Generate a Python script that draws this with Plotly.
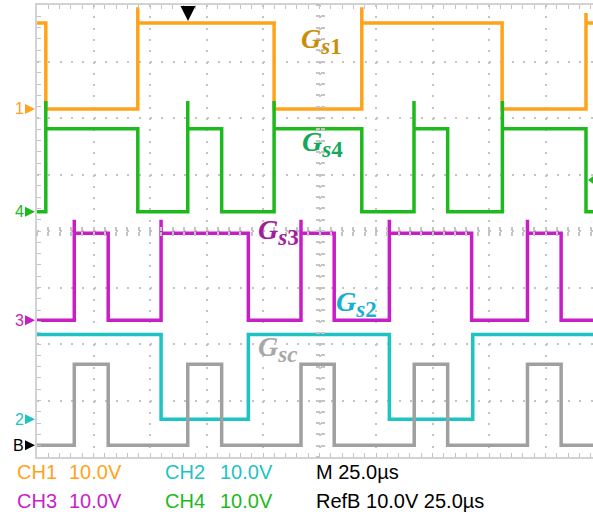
import plotly.graph_objects as go

# ---------------- scope settings ----------------
US_PER_DIV = 25.0      # M 25.0 us
V_PER_DIV = 10.0       # all channels 10.0 V/div
T_VIEW = 246.0         # visible part of the 10-division record (us)

# ---------------- waveform data ----------------
# each channel: switching instants (us) and the level (V) held from that instant on
ch1_t = [0.0, 3.9, 44.6, 104.9, 143.7, 205.8, 242.9]
ch1_v = [15.2, 0.0, 15.2, 0.0, 15.2, 0.0, 15.2]
ch1_os_t = [44.6, 143.7, 242.9]
ch1_os_v = [18.0, 18.0, 17.0]

ch4_t = [0.0, 3.9, 44.6, 66.7, 81.7, 104.9, 143.7, 166.8, 181.7, 205.9, 242.9]
ch4_v = [0.0, 14.7, 0.0, 14.7, 0.0, 14.7, 0.0, 14.7, 0.0, 14.7, 0.0]
ch4_os_t = [3.9, 66.7, 104.9, 166.8, 205.9]
ch4_os_v = [19.6, 19.6, 19.6, 19.6, 19.6]

ch3_t = [0.0, 16.5, 31.5, 54.9, 93.5, 116.8, 131.5, 155.9, 192.3, 217.0, 231.9]
ch3_v = [0.0, 15.4, 0.0, 15.4, 0.0, 15.4, 0.0, 15.4, 0.0, 15.4, 0.0]
ch3_os_t = [16.5, 54.9, 116.8, 155.9, 217.0]
ch3_os_v = [17.8, 17.8, 17.8, 17.8, 17.8]

ch2_t = [0.0, 54.9, 93.5, 155.9, 192.8]
ch2_v = [15.0, 0.0, 15.0, 0.0, 15.0]

refb_t = [0.0, 16.5, 31.5, 66.7, 81.7, 116.8, 131.5, 166.9, 181.7, 217.0, 231.9]
refb_v = [0.0, 14.3, 0.0, 14.3, 0.0, 14.3, 0.0, 14.3, 0.0, 14.3, 0.0]

# ground-reference positions of the channels (divisions from the bottom)
ch1_pos = 6.16
ch4_pos = 4.34
ch3_pos = 2.42
ch2_pos = 0.67
refb_pos = 0.21

trigger_t = 66.8

# ---------------- colours ----------------
C_CH1 = "#FFA31A"
C_CH2 = "#1EC3C3"
C_CH3 = "#C81EC8"
C_CH4 = "#1DB91D"
C_REFB = "#A0A0A0"
C_GRID = "#C4C4C4"

# ---------------- screen geometry (pixels) ----------------
W, H = 593, 518
L, T, B = 37, 5, 61
PX_DIV = 56.5


def step_trace(t, v, pos, os_t=(), os_v=()):
    """Build a stepped waveform, with overshoot spikes on listed edges."""
    spikes = dict(zip(os_t, os_v))
    xs, ys = [], []
    for i, (ti, vi) in enumerate(zip(t, v)):
        if i > 0:
            xs.append(ti)
            ys.append(pos + v[i - 1] / V_PER_DIV)
            if ti in spikes:
                xs.append(ti)
                ys.append(pos + spikes[ti] / V_PER_DIV)
        xs.append(ti)
        ys.append(pos + vi / V_PER_DIV)
    xs.append(T_VIEW)
    ys.append(pos + v[-1] / V_PER_DIV)
    return xs, ys


def ux(px):
    return (px - L) / PX_DIV * US_PER_DIV


def uy(py):
    return (H - B - py) / PX_DIV


def paper_x(px):
    return (px - L) / (W - L)


def paper_y(py):
    return (H - B - py) / (H - B - T)


fig = go.Figure()

channels = [
    (ch1_t, ch1_v, ch1_pos, ch1_os_t, ch1_os_v, C_CH1),
    (ch2_t, ch2_v, ch2_pos, (), (), C_CH2),
    (ch3_t, ch3_v, ch3_pos, ch3_os_t, ch3_os_v, C_CH3),
    (ch4_t, ch4_v, ch4_pos, ch4_os_t, ch4_os_v, C_CH4),
    (refb_t, refb_v, refb_pos, (), (), C_REFB),
]
for t, v, pos, ot, ov, col in channels:
    xs, ys = step_trace(t, v, pos, ot, ov)
    fig.add_trace(go.Scatter(x=xs, y=ys, mode="lines",
                             line=dict(color=col, width=3.5),
                             hoverinfo="skip", showlegend=False))

# invisible traces so the centre graticule axes are drawn
fig.add_trace(go.Scatter(x=[0, T_VIEW], y=[0, 8], xaxis="x2", yaxis="y2",
                         mode="markers", marker=dict(opacity=0), showlegend=False, hoverinfo="skip"))
fig.add_trace(go.Scatter(x=[0, T_VIEW], y=[0, 8], xaxis="x3", yaxis="y3",
                         mode="markers", marker=dict(opacity=0), showlegend=False, hoverinfo="skip"))

# trigger-level marker at the right edge
fig.add_trace(go.Scatter(x=[T_VIEW], y=[uy(180)], mode="markers",
                         marker=dict(symbol="triangle-left", size=10, color=C_CH4),
                         cliponaxis=False, showlegend=False, hoverinfo="skip"))

frame_axis = dict(showticklabels=False, zeroline=False, showgrid=True,
                  gridcolor=C_GRID, griddash="2px,9.3px", gridwidth=2,
                  showline=True, linecolor="#D2D2D2", linewidth=2,
                  ticks="inside", ticklen=4, tickcolor=C_GRID, tickwidth=1,
                  fixedrange=True)

centre_axis = dict(showticklabels=False, zeroline=False, showgrid=False,
                   showline=False, ticklen=4, tickcolor=C_GRID, tickwidth=2,
                   fixedrange=True)

fig.update_layout(
    width=W, height=H,
    margin=dict(l=L, r=0, t=T, b=B, pad=0),
    paper_bgcolor="white", plot_bgcolor="white",
    xaxis=dict(range=[0, T_VIEW], dtick=US_PER_DIV, tick0=0, mirror="ticks",
               minor=dict(dtick=US_PER_DIV / 5, ticks="inside", ticklen=4,
                          tickcolor=C_GRID, showgrid=False),
               **frame_axis),
    yaxis=dict(range=[0, 8], dtick=1, tick0=0, mirror=False,
               minor=dict(dtick=0.2, ticks="inside", ticklen=4,
                          tickcolor=C_GRID, showgrid=False),
               **frame_axis),
    xaxis2=dict(range=[0, T_VIEW], dtick=US_PER_DIV / 5, tick0=0, overlaying="x",
                anchor="free", position=0.5, ticks="outside", **centre_axis),
    xaxis3=dict(range=[0, T_VIEW], dtick=US_PER_DIV / 5, tick0=0, overlaying="x",
                anchor="free", position=0.5, ticks="inside", **centre_axis),
    yaxis2=dict(range=[0, 8], dtick=0.2, tick0=0, overlaying="y",
                anchor="free", position=(5 * US_PER_DIV) / T_VIEW, ticks="outside", **centre_axis),
    yaxis3=dict(range=[0, 8], dtick=0.2, tick0=0, overlaying="y",
                anchor="free", position=(5 * US_PER_DIV) / T_VIEW, ticks="inside", **centre_axis),
)

annotations = []

# channel ground markers on the left edge
markers = [("1", ch1_pos, C_CH1), ("4", ch4_pos, C_CH4), ("3", ch3_pos, C_CH3),
           ("2", ch2_pos, C_CH2), ("B", refb_pos, "#000000")]
for txt, pos, col in markers:
    annotations.append(dict(
        x=0, y=pos, xref="x", yref="y", text=txt, showarrow=True,
        ax=-9, ay=0, axref="pixel", ayref="pixel", xshift=-2,
        xanchor="right", yanchor="middle",
        arrowhead=2, arrowsize=1, arrowwidth=2, arrowcolor=col, standoff=0,
        font=dict(family="Liberation Sans", size=16, color=col)))

# trigger position arrow
annotations.append(dict(
    x=trigger_t, y=uy(21), xref="x", yref="y", text="", showarrow=True,
    ax=0, ay=-16, arrowhead=2, arrowsize=1.2, arrowwidth=2.5,
    arrowcolor="#000000", standoff=0))

# gate-signal names: italic G with a large subscript (italic letter, upright digit)
labels = [
    ("<i>s</i>1", 299, 41, "#C8900A"),
    ("<i>s</i>4", 300, 144, "#14A85A"),
    ("<i>s</i>3", 256, 232, "#A0209A"),
    ("<i>s</i>2", 334, 304, "#1AAFD0"),
    ("<i>sc</i>", 256, 349, "#A8A8A8"),
]
for sub, px, py, col in labels:
    annotations.append(dict(
        x=ux(px), y=uy(py), xref="x", yref="y",
        text=f"<b><i>G</i><sub><span style='font-size:23px'>{sub}</span></sub></b>",
        showarrow=False, xanchor="left", yanchor="middle",
        font=dict(family="Liberation Serif", size=28, color=col)))

# readout rows below the graticule
readout = [
    ("CH1", 15, 471.5, C_CH1), ("10.0V", 67, 471.5, C_CH1),
    ("CH2", 163, 471.5, C_CH2), ("10.0V", 218, 471.5, C_CH2),
    ("M 25.0µs", 314, 471.5, "#000000"),
    ("CH3", 15, 501, C_CH3), ("10.0V", 67, 501, C_CH3),
    ("CH4", 163, 501, C_CH4), ("10.0V", 218, 501, C_CH4),
    ("RefB 10.0V 25.0µs", 314, 501, "#000000"),
]
for txt, px, py, col in readout:
    annotations.append(dict(
        x=paper_x(px), y=paper_y(py), xref="paper", yref="paper",
        text=txt, showarrow=False, xanchor="left", yanchor="middle",
        font=dict(family="Liberation Sans", size=20, color=col)))

fig.update_layout(annotations=annotations)

fig.write_html("out.html")
